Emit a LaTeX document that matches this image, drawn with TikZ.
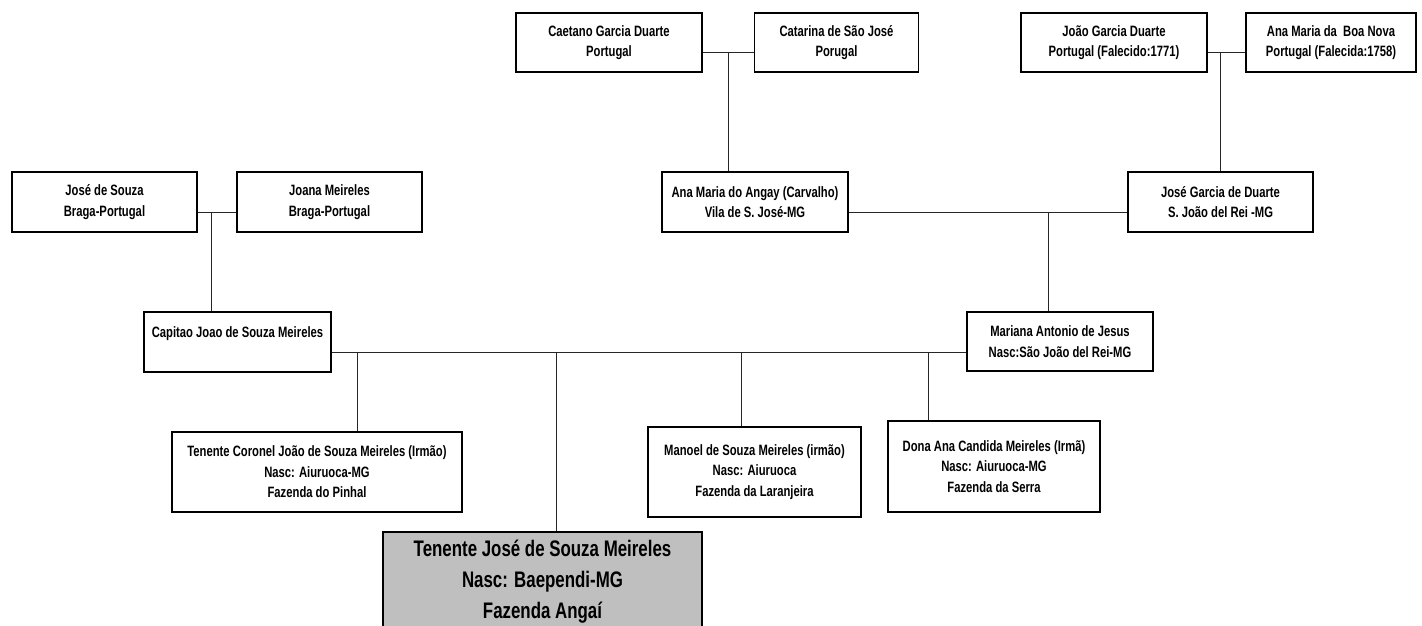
\documentclass[tikz,border=0pt]{standalone}
\usepackage{fontspec}
\setmainfont{Liberation Sans}[FakeStretch=0.75]
\tikzset{
	pessoa/.style={draw, line width=1.3pt, fill=white, align=center, inner sep=0pt,
		font=\fontsize{15}{20.5}\selectfont\bfseries},
	linha/.style={draw=black!85, line width=1pt}
}
\begin{document}
\begin{tikzpicture}[x=1pt, y=-1pt]
	\useasboundingbox (0,0) rectangle (1422,626);
	\clip (0,0) rectangle (1422,626);
	% bisavos
	\node (caetano)  at ( 609,  42.5)	[pessoa, minimum width=186, minimum height=59]	{Caetano Garcia Duarte\\Portugal};
	\node (catarina) at ( 836.5, 42.5)	[pessoa, minimum width=164, minimum height=59]	{Catarina de São José\\Porugal};
	\node (joaogd)   at (1114,  42.5)	[pessoa, minimum width=186, minimum height=59]	{João Garcia Duarte\\Portugal (Falecido:1771)};
	\node (anaboa)   at (1331,  42.5)	[pessoa, minimum width=170, minimum height=59]	{Ana Maria da~ Boa Nova\\Portugal (Falecida:1758)};
	% avos
	\node (josesz)   at ( 104.5, 202)	[pessoa, minimum width=185, minimum height=60]	{José de Souza\\Braga-Portugal};
	\node (joana)    at ( 329.5, 202)	[pessoa, minimum width=185, minimum height=60]	{Joana Meireles\\Braga-Portugal};
	\node (angay)    at ( 755,   202)	[pessoa, minimum width=186, minimum height=60]	{Ana Maria do Angay (Carvalho)\\Vila de S. José-MG};
	\node (josegd)   at (1220.5, 202)	[pessoa, minimum width=185, minimum height=60]	{José Garcia de Duarte\\S. João del Rei -MG};
	% pais
	\node (capitao)  at ( 237.5, 342)	[pessoa, minimum width=187, minimum height=60]	{Capitao Joao de Souza Meireles\\\mbox{}};
	\node (mariana)  at (1060,  341.5)	[pessoa, minimum width=186, minimum height=59]	{Mariana Antonio de Jesus\\Nasc:São João del Rei-MG};
	% filhos
	\node (coronel)  at ( 317,   472)	[pessoa, minimum width=290, minimum height=80]	{Tenente Coronel João de Souza Meireles (Irmão)\\Nasc: Aiuruoca-MG\\Fazenda do Pinhal};
	\node (manoel)   at ( 754.5, 472)	[pessoa, minimum width=213, minimum height=90]	{Manoel de Souza Meireles (irmão)\\Nasc: Aiuruoca\\Fazenda da Laranjeira};
	\node (dona)     at ( 994,  466.5)	[pessoa, minimum width=212, minimum height=91]	{Dona Ana Candida Meireles (Irmã)\\Nasc: Aiuruoca-MG\\Fazenda da Serra};
	\node (tenente)  at ( 542.5, 582)	[pessoa, minimum width=319, minimum height=100, fill=black!25,
		font=\fontsize{22.5}{31}\selectfont\bfseries]	{Tenente José de Souza Meireles\\Nasc: Baependi-MG\\Fazenda Angaí};
	% unioes
	\coordinate (u1) at ( 728,  53);
	\coordinate (u2) at (1220,  53);
	\coordinate (u3) at ( 211, 212);
	\coordinate (u4) at (1048, 212);
	\coordinate (u5) at ( 357, 352);
	\coordinate (u6) at ( 556, 352);
	\coordinate (u7) at ( 741, 352);
	\coordinate (u8) at ( 928, 352);
	\draw[linha] (caetano.east |- u1) -- (catarina.west |- u1);
	\draw[linha] (joaogd.east |- u2) -- (anaboa.west |- u2);
	\draw[linha] (josesz.east |- u3) -- (joana.west |- u3);
	\draw[linha] (angay.east |- u4) -- (josegd.west |- u4);
	\draw[linha] (capitao.east |- u5) -- (mariana.west |- u5);
	\draw[linha] (u1) -- (u1 |- angay.north);
	\draw[linha] (u2) -- (u2 |- josegd.north);
	\draw[linha] (u3) -- (u3 |- capitao.north);
	\draw[linha] (u4) -- (u4 |- mariana.north);
	\draw[linha] (u5) -- (u5 |- coronel.north);
	\draw[linha] (u6) -- (u6 |- tenente.north);
	\draw[linha] (u7) -- (u7 |- manoel.north);
	\draw[linha] (u8) -- (u8 |- dona.north);
\end{tikzpicture}
\end{document}
